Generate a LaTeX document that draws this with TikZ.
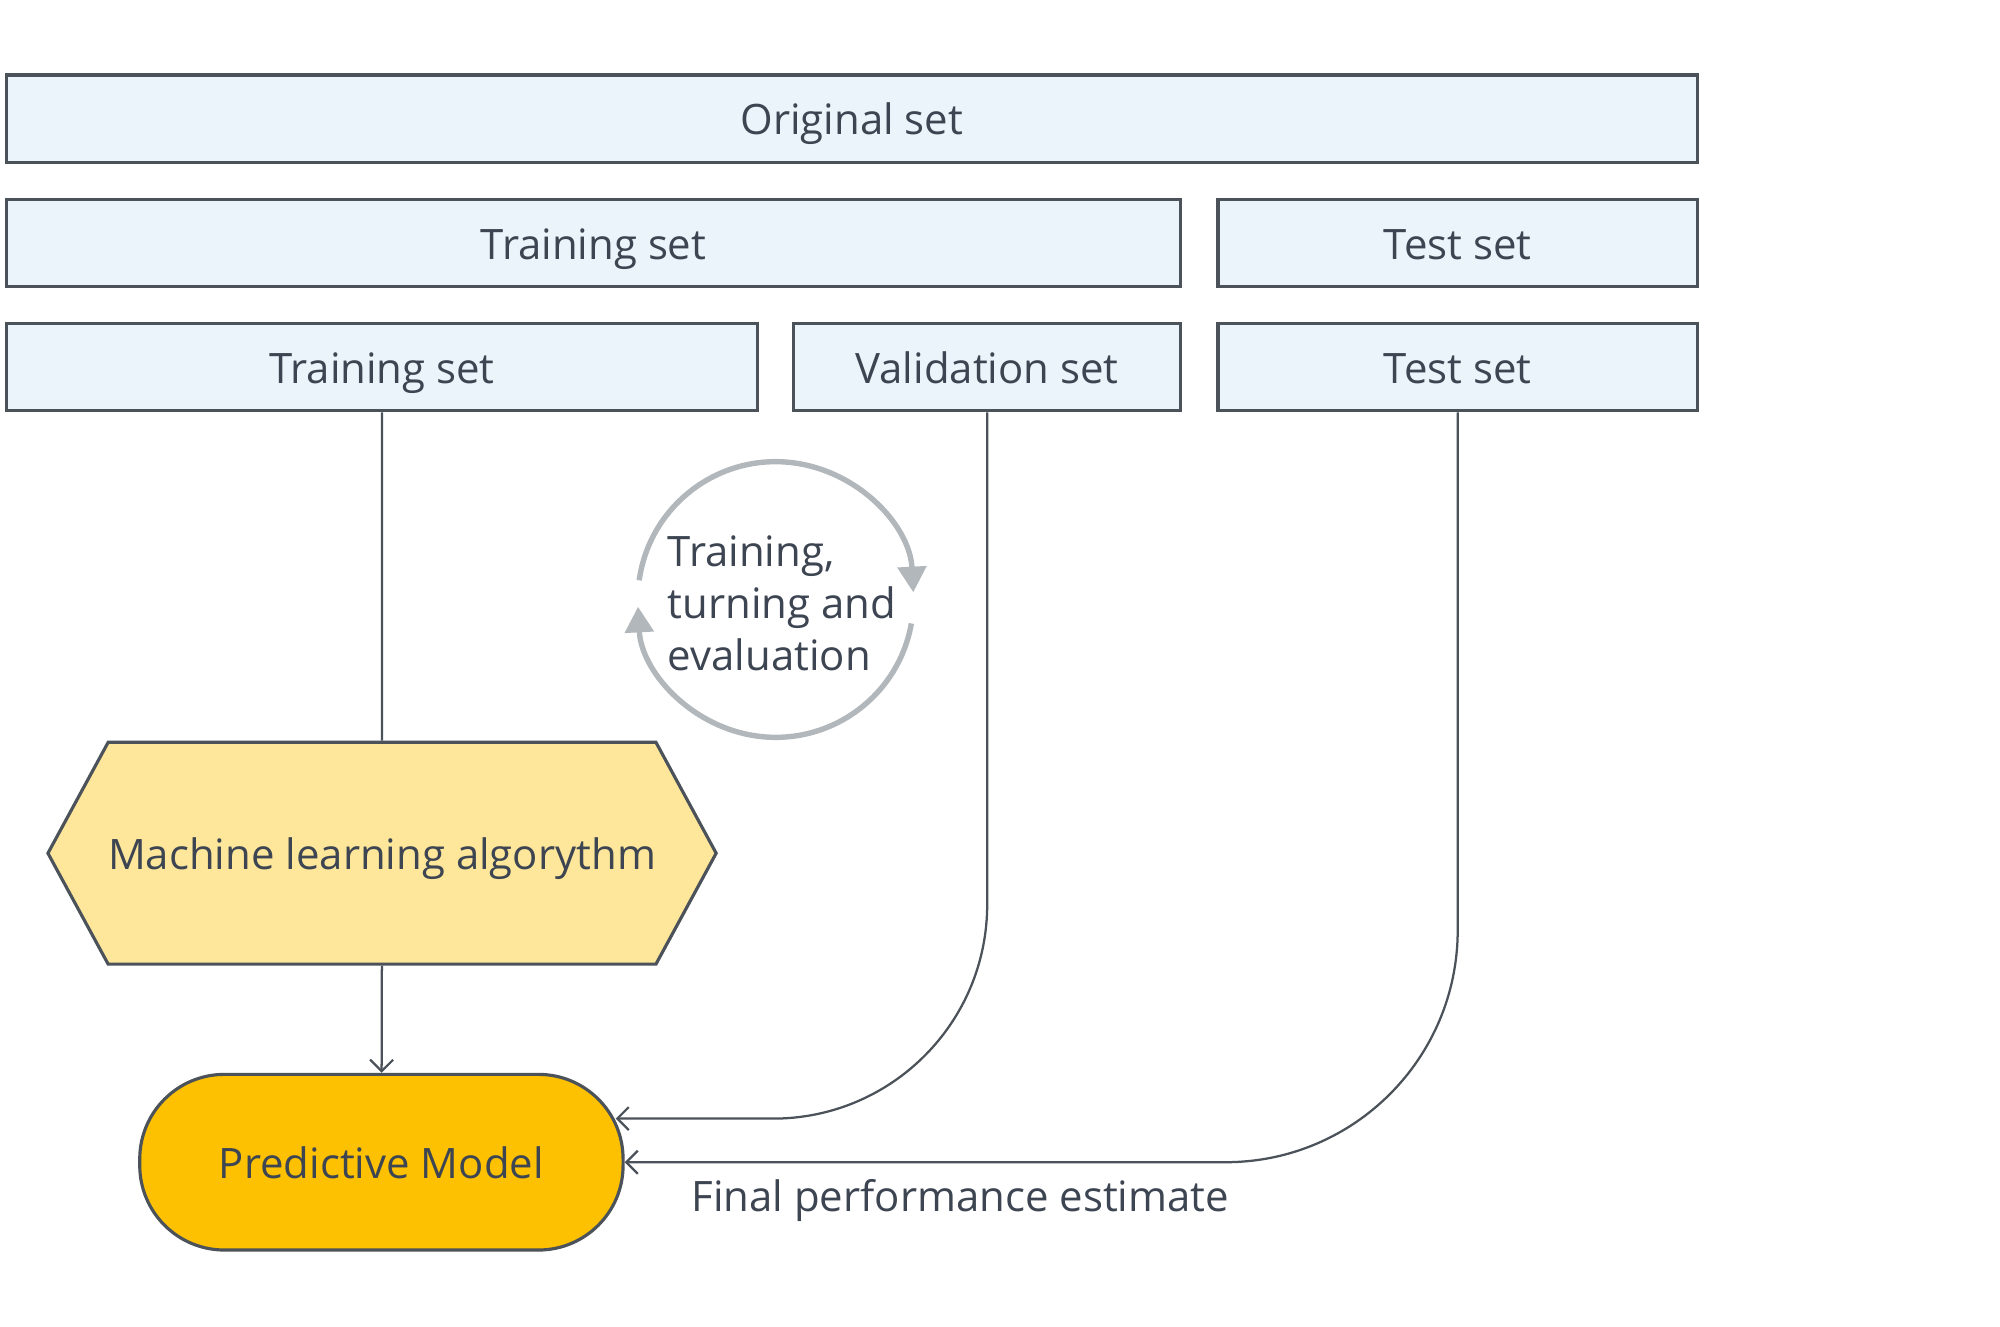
\documentclass[tikz,border=0pt]{standalone}
\usepackage{fontspec}
\setmainfont{Open Sans}
\usetikzlibrary{calc}
\usetikzlibrary{positioning}
\usetikzlibrary{shapes.symbols}
\usetikzlibrary{arrows.meta}
\definecolor{setfill}{HTML}{EAF4FA}
\definecolor{edgegray}{HTML}{4B5259}
\definecolor{textgray}{HTML}{3C4551}
\definecolor{algofill}{HTML}{FEE69A}
\definecolor{modelfill}{HTML}{FDC101}
\definecolor{loopgray}{HTML}{B2B7BB}

\begin{document}
\begin{tikzpicture}[
            every node/.style={text=textgray, font=\fontsize{9.3}{11.6}\selectfont},
            setbox/.style={rectangle, draw=edgegray, line width=0.7pt, fill=setfill, minimum height=0.68cm, inner sep=0pt, text height=0.714em, text depth=0pt},
            algobox/.style={signal, signal to=west and east, signal pointer angle=123, draw=edgegray, line width=0.7pt, fill=algofill, minimum width=5.10cm, minimum height=1.73cm, inner sep=0pt, text height=0.714em, text depth=0pt},
            modelbox/.style={rectangle, rounded corners=0.66cm, draw=edgegray, line width=0.7pt, fill=modelfill, minimum width=3.77cm, minimum height=1.37cm, text height=0.714em, text depth=0pt},
            link/.style={draw=edgegray, line width=0.5pt},
            linkarrow/.style={link, -{Straight Barb[length=0.9mm, width=1.8mm]}},
            looparc/.style={draw=loopgray, line width=1.2pt, -{Triangle[length=0.2cm, width=0.22cm]}}
        ]
            \useasboundingbox (0,0) rectangle (15.6,10.35);

            \node[setbox, minimum width=13.19cm] (orig) at (6.645,9.425) {Original set};
            \node[setbox, minimum width=9.16cm] (train2) at (4.63,8.455) {Training set};
            \node[setbox, minimum width=3.74cm] (test2) at (11.37,8.455) {Test set};
            \node[setbox, minimum width=5.86cm] (train3) at (2.98,7.485) {Training set};
            \node[setbox, minimum width=3.02cm] (val3) at (7.70,7.485) {Validation set};
            \node[setbox, minimum width=3.74cm] (test3) at (11.37,7.485) {Test set};

            \node[algobox] (algo) at (2.98,3.695) {Machine learning algorythm};
            \node[modelbox] (model) at (2.975,1.285) {Predictive Model};

            \node[align=left, inner sep=0pt] (loop) at (6.10,5.645) {Training,\\turning and\\evaluation};
            \coordinate (loopc) at (6.05,5.674);
            \draw[looparc] ($(loopc)+(172:1.075)$) arc[start angle=172, end angle=3, radius=1.075cm];
            \draw[looparc] ($(loopc)+(-10:1.075)$) arc[start angle=-10, end angle=-177, radius=1.075cm];

            \coordinate (valend) at ($(model.east)+(-0.07,0.34)$);
            \draw[link] (train3) -- (algo);
            \draw[linkarrow] (algo) -- (model);
            \draw[linkarrow, rounded corners=1.67cm] (val3.south) |- (valend);
            \draw[linkarrow, rounded corners=1.81cm] (test3.south) |- (model.east);

            \node (final) at (7.49,0.99) {Final performance estimate};
        \end{tikzpicture}
\end{document}
